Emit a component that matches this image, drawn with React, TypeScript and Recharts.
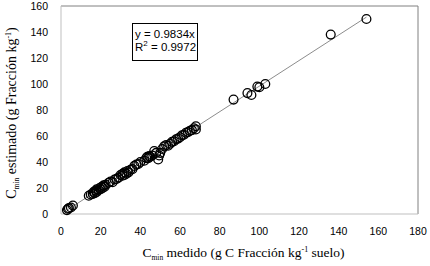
import React from "react";
import {
  ScatterChart,
  Scatter,
  XAxis,
  YAxis,
  ReferenceLine,
  Label,
} from "recharts";

// Measured values (x) and estimated values (y)
const measured: number[] = [
  3, 3.5, 4, 5, 6,
  14, 15, 16, 16.5, 17, 17.5, 18, 18, 19, 19.5, 20, 20.5, 21, 21.5, 22, 22.5,
  24, 25, 26, 27, 28, 29,
  30, 31, 31, 32, 32, 33, 33.5, 34, 35, 36,
  37, 38, 39, 40,
  42, 43, 43.5, 44, 44.5, 45, 46,
  47, 48, 49, 49.5, 50, 51,
  52, 53, 54, 55, 56, 57, 58, 59, 60, 61,
  62, 63, 64, 65, 66, 67, 68, 68,
  87, 94, 96, 99, 100, 103, 136, 154,
];
const estimated: number[] = [
  3, 4, 4.5, 5, 6.5,
  14, 15, 15.5, 17, 16, 18, 17, 19, 18.5, 20, 19, 21, 20, 22, 21, 22.5,
  24, 25, 24.5, 26.5, 27, 28,
  30, 29.5, 31, 30, 32, 31, 33, 32, 34, 34.5,
  37, 38, 38.5, 40,
  41, 43, 44, 43, 44.5, 44, 45,
  48.5, 47, 42, 45, 47, 50,
  52, 53, 52.5, 54, 55.5, 56, 57.5, 58, 59, 60.5,
  61, 62.5, 63, 64, 64.5, 66, 65, 67.5,
  88, 93, 91.5, 98, 97.5, 100, 138, 150,
];

const X_TICKS = [0, 20, 40, 60, 80, 100, 120, 140, 160, 180];
const Y_TICKS = [0, 20, 40, 60, 80, 100, 120, 140, 160];
const SLOPE = 0.9834;
const R2 = 0.9972;
const TREND_X = [3, 154];

const points = measured.map((x, i) => ({ x, y: estimated[i] }));
const trend = TREND_X.map((x) => ({ x, y: SLOPE * x }));

const tickStyle = { fontFamily: "Liberation Sans, Arial, sans-serif", fontSize: 10.5, fill: "#000" };
const titleFont = "Liberation Serif, Times New Roman, serif";

const Circle = (props: any) => {
  const { cx, cy } = props;
  if (cx == null || cy == null) return null;
  return <circle cx={cx} cy={cy} r={4.4} fill="none" stroke="#000" strokeWidth={1.3} />;
};
const NoShape = () => null;

const XTitle = (props: any) => {
  const vb = props.viewBox || {};
  const cx = vb.x + vb.width / 2 + 4;
  const y = vb.y + 43;
  return (
    <text x={cx} y={y} textAnchor="middle" fontFamily={titleFont} fontSize={13.5} fill="#000">
      <tspan>C</tspan>
      <tspan fontSize={7.5} dy={3}>min</tspan>
      <tspan dy={-3}> medido (g C Fracción kg</tspan>
      <tspan fontSize={8} dy={-5}>-1</tspan>
      <tspan dy={5}> suelo)</tspan>
    </text>
  );
};

const YTitle = (props: any) => {
  const vb = props.viewBox || {};
  const x = vb.x + 16;
  const cy = vb.y + vb.height / 2 + 3;
  return (
    <text
      x={x}
      y={cy}
      textAnchor="middle"
      transform={`rotate(-90 ${x} ${cy})`}
      fontFamily={titleFont}
      fontSize={14}
      fill="#000"
    >
      <tspan>C</tspan>
      <tspan fontSize={7.5} dy={3}>min</tspan>
      <tspan dy={-3}> estimado (g Fracción kg</tspan>
      <tspan fontSize={8} dy={-5}>-1</tspan>
      <tspan dy={5}>)</tspan>
    </text>
  );
};

export default function App() {
  return (
    <div style={{ position: "absolute", left: 0, top: 0, width: 430, height: 266, background: "#fff" }}>
      <ScatterChart width={430} height={266} margin={{ top: 6, right: 12, left: 0, bottom: 0 }}>
        <XAxis
          type="number"
          dataKey="x"
          domain={[0, 180]}
          ticks={X_TICKS}
          interval={0}
          tickLine={false}
          tickMargin={8}
          height={52}
          axisLine={{ stroke: "#bfbfbf" }}
          tick={tickStyle}
        >
          <Label content={<XTitle />} />
        </XAxis>
        <YAxis
          type="number"
          dataKey="y"
          domain={[0, 160]}
          ticks={Y_TICKS}
          interval={0}
          tickLine={false}
          tickMargin={7}
          width={61}
          axisLine={{ stroke: "#bfbfbf" }}
          tick={tickStyle}
        >
          <Label content={<YTitle />} />
        </YAxis>
        <ReferenceLine y={160} stroke="#808080" strokeWidth={1} />
        <ReferenceLine x={180} stroke="#808080" strokeWidth={1} />
        <Scatter
          data={trend}
          line={{ stroke: "#6f6f6f", strokeWidth: 0.8 }}
          lineType="joint"
          shape={NoShape}
          isAnimationActive={false}
        />
        <Scatter data={points} shape={Circle} isAnimationActive={false} />
      </ScatterChart>
      <div
        style={{
          position: "absolute",
          left: 132,
          top: 23,
          width: 66,
          height: 38,
          border: "1px solid #000",
          fontFamily: "Liberation Sans, Arial, sans-serif",
          fontSize: 11.5,
          lineHeight: "13px",
          padding: "4px 0 0 2px",
          boxSizing: "border-box",
          background: "#fff",
          color: "#000",
          whiteSpace: "nowrap",
        }}
      >
        <div>y = {SLOPE}x</div>
        <div>
          R<sup style={{ fontSize: 8, lineHeight: 0 }}>2</sup> = {R2}
        </div>
      </div>
    </div>
  );
}
